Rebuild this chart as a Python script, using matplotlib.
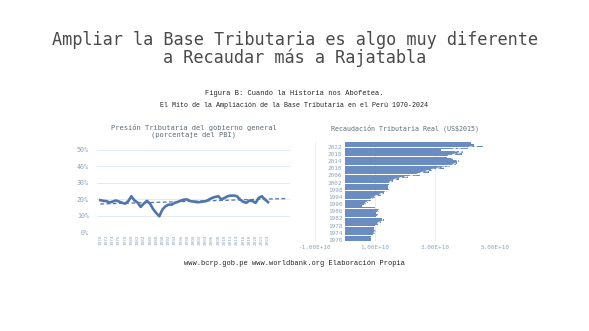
import numpy as np
import matplotlib
matplotlib.use("Agg")
import matplotlib.pyplot as plt

# ----------------------------
# Data
# ----------------------------
years = list(range(1970, 2025))

# tax pressure, % of GDP
presion = [19.4, 19.0, 18.8, 18.0, 18.6, 19.2, 18.6, 17.8, 17.3, 18.8,
           21.8, 19.2, 18.0, 15.3, 17.3, 19.0, 17.3, 14.0, 11.6, 9.6,
           13.7, 15.7, 16.7, 16.7, 17.8, 18.4, 19.2, 19.8, 19.8, 18.8,
           18.6, 18.2, 18.2, 18.6, 18.8, 19.8, 20.8, 21.4, 21.8, 19.8,
           20.8, 21.8, 22.2, 22.2, 21.8, 19.8, 18.4, 17.8, 19.2, 18.8,
           17.8, 20.8, 21.8, 19.8, 18.2]

# real tax revenue, US$ 2015 (units of 1e10)
recaudacion = [0.86, 0.88, 0.90, 0.95, 1.00, 1.02, 0.98, 1.00, 1.05, 1.10,
               1.20, 1.30, 1.22, 1.05, 1.10, 1.05, 1.15, 1.12, 1.05, 0.55,
               0.70, 0.75, 0.85, 0.92, 1.00, 1.20, 1.30, 1.40, 1.48, 1.45,
               1.45, 1.48, 1.50, 1.60, 1.80, 2.10, 2.50, 2.45, 2.80, 2.90,
               3.30, 3.50, 3.70, 3.75, 3.80, 3.60, 3.40, 3.50, 3.90, 3.95,
               3.20, 4.10, 4.60, 4.30, 4.20]

left_ticks = list(range(1970, 2025, 2))
right_ticks = list(range(1970, 2025, 4))

blue = "#4f76ac"
bar_blue = "#6a8cc0"
tick_col = "#8fa3bf"
grid_col = "#dfe6ef"
mono = "DejaVu Sans Mono"

fig = plt.figure(figsize=(5.89, 3.31), dpi=100)

fig.text(0.5, 0.853, "Ampliar la Base Tributaria es algo muy diferente\na Recaudar más a Rajatabla",
         ha="center", va="center", family=mono, fontsize=12.2,
         color="#4a4a4a", linespacing=0.95)
fig.text(0.5, 0.718, "Figura B: Cuando la Historia nos Abofetea.",
         ha="center", va="center", family="Liberation Mono", fontsize=5.0, color="#222222")
fig.text(0.5, 0.680, "El Mito de la Ampliación de la Base Tributaria en el Perú 1970-2024",
         ha="center", va="center", family="Liberation Mono", fontsize=4.8, color="#222222")
fig.text(0.5, 0.205, "www.bcrp.gob.pe www.worldbank.org Elaboración Propia",
         ha="center", va="center", family="Liberation Mono", fontsize=5.0,
         color="#222222")

# ----------------------------
# Left: tax pressure line
# ----------------------------
ax1 = fig.add_axes([0.165, 0.299, 0.327, 0.248])
ax1.plot(years, presion, color=blue, lw=1.9, solid_joinstyle="round")
coef = np.polyfit(years, presion, 1)
tx = np.array([1970, 2030])
ax1.plot(tx, np.polyval(coef, tx), color=blue, lw=0.9, ls=(0, (3, 2)))
ax1.set_ylim(0, 50)
ax1.set_xlim(1969, 2031)
ax1.set_yticks(range(0, 51, 10))
ax1.set_yticklabels([f"{v}%" for v in range(0, 51, 10)])
ax1.set_xticks(left_ticks)
ax1.set_xticklabels([str(y) for y in left_ticks], rotation=90)
ax1.tick_params(axis="y", labelsize=4.8, colors=tick_col, length=0, pad=6)
ax1.tick_params(axis="x", labelsize=3.2, colors=tick_col, length=0, pad=2)
ax1.grid(axis="y", color=grid_col, lw=0.6)
ax1.set_axisbelow(True)
for s in ax1.spines.values():
    s.set_visible(False)
ax1.set_title("Presión Tributaria del gobierno general\n(porcentaje del PBI)",
              family=mono, fontsize=5.1, color="#5f6b78",
              linespacing=1.1, pad=10)
for lab in ax1.get_xticklabels() + ax1.get_yticklabels():
    lab.set_family(mono)

# ----------------------------
# Right: real tax revenue bars
# ----------------------------
ax2 = fig.add_axes([0.535, 0.272, 0.305, 0.299])
vals = np.array(recaudacion) * 1e10
ax2.barh(years, vals, height=0.88, color=bar_blue, zorder=2)
ma = np.convolve(vals, [0.5, 0.5], mode="valid")
ax2.plot(ma, years[1:], color="white", lw=0.8, ls=(0, (3, 2)), zorder=3)
ax2.set_xlim(-1e10, 5e10)
ax2.set_ylim(1969.4, 2024.6)
ax2.set_xticks([-1e10, 1e10, 3e10, 5e10])
ax2.set_xticklabels(["-1.00E+10", "1.00E+10", "3.00E+10", "5.00E+10"])
ax2.set_yticks(right_ticks)
ax2.spines["left"].set_position(("data", 0))
for s in ax2.spines.values():
    s.set_visible(False)
ax2.tick_params(axis="x", labelsize=4.3, colors=tick_col, length=0, pad=3)
ax2.tick_params(axis="y", labelsize=4.3, colors=tick_col, length=0, pad=2)
ax2.grid(axis="x", color=grid_col, lw=0.6)
ax2.set_axisbelow(True)
for lab in ax2.get_xticklabels() + ax2.get_yticklabels():
    lab.set_family(mono)
ax2.set_title("Recaudación Tributaria Real (US$2015)",
              family=mono, fontsize=4.8, color="#5f6b78", pad=8)

fig.savefig("out.png", dpi=100)
